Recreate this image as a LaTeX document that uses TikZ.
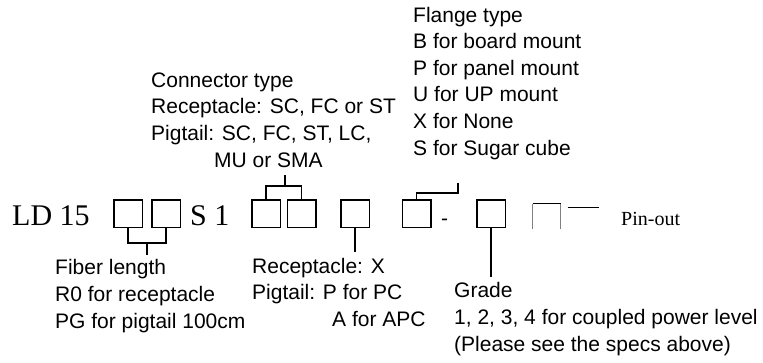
\documentclass[tikz,border=0pt]{standalone}
\usepackage{fontspec}
\usepackage{tikz}
\newfontfamily\notefont{Liberation Sans}
\newfontfamily\codefont{Liberation Serif}

\begin{document}
\begin{tikzpicture}[x=1pt, y=-1pt,
  code/.style={font=\codefont\fontsize{30}{36}\selectfont, inner sep=0pt, anchor=base west},
  note/.style={font=\notefont\fontsize{21}{26.6}\selectfont, inner sep=0pt, anchor=base west, align=left},
  slot/.style={draw, line width=1.5pt, minimum width=28.5pt, minimum height=27.5pt, inner sep=0pt},
  lead/.style={line width=1.5pt}]

  \useasboundingbox (0,0) rectangle (763,362);

  % part number
  \node[code] (ld) at (12,225) {LD 15};
  \node[slot] (b1) at (128,213.5) {};
  \node[slot] (b2) at (166,213.5) {};
  \node[code] (s1) at (190,225) {S 1};
  \node[slot] (b3) at (266,213.5) {};
  \node[slot] (b4) at (301.5,213.5) {};
  \node[slot] (b5) at (355,213.5) {};
  \node[slot] (b6) at (416.5,213.5) {};
  \node[note] (dash) at (441,225) {-};
  \node[slot] (b7) at (491,213.5) {};

  % open slot for pin-out
  \coordinate (b8sw) at (532.5,229);
  \coordinate (b8ne) at (560.5,203.5);
  \draw[gray, line width=0.8pt] (b8sw) -- (b8sw |- b8ne);
  \draw[gray, line width=0.8pt] (b8ne) -- (b8ne |- b8sw);
  \draw[line width=0.8pt] (b8sw |- b8ne) -- (b8ne);
  \node[code, font=\codefont\fontsize{20}{24}\selectfont] (pin) at (621,225) {Pin-out};
  \draw[line width=0.8pt] ([xshift=7pt, yshift=-3.5pt]b8ne) -- ++(31,0);

  % labels (placed by the baseline of their last line)
  \node[note] (conn) at (151,167) {Connector type\\Receptacle: SC, FC or ST\\Pigtail: SC, FC, ST, LC,\\\hspace*{63pt}MU or SMA};
  \node[note] (flange) at (413,155) {Flange type\\B for board mount\\P for panel mount\\U for UP mount\\X for None\\S for Sugar cube};
  \node[note] (fiber) at (55,328) {Fiber length\\R0 for receptacle\\PG for pigtail 100cm};
  \node[note] (recep) at (252,326.5) {Receptacle: X\\Pigtail: P for PC\\\hspace*{80pt}A for APC};
  \node[note] (grade) at (454,351) {Grade\\1, 2, 3, 4 for coupled power level\\(Please see the specs above)};

  % leads from slots to labels
  \coordinate (fiberTip) at (147,255);
  \draw[lead] (b1.south) -- ++(0,15) -| (b2.south);
  \draw[lead] (fiberTip |- 0,243) -- (fiberTip);

  \coordinate (connTip) at (285,175);
  \draw[lead] (b3.north) -- ++(0,-13) -| (b4.north);
  \draw[lead] (connTip |- 0,186) -- (connTip);

  \coordinate (recepTip) at (355,252);
  \draw[lead] (b5.south) -- (recepTip);

  \coordinate (flangeTip) at (458,183);
  \draw[lead] (b6.north) |- (flangeTip |- 0,193) -- (flangeTip);

  \coordinate (gradeTip) at (491,277);
  \draw[lead] (b7.south) -- (gradeTip);
\end{tikzpicture}
\end{document}
